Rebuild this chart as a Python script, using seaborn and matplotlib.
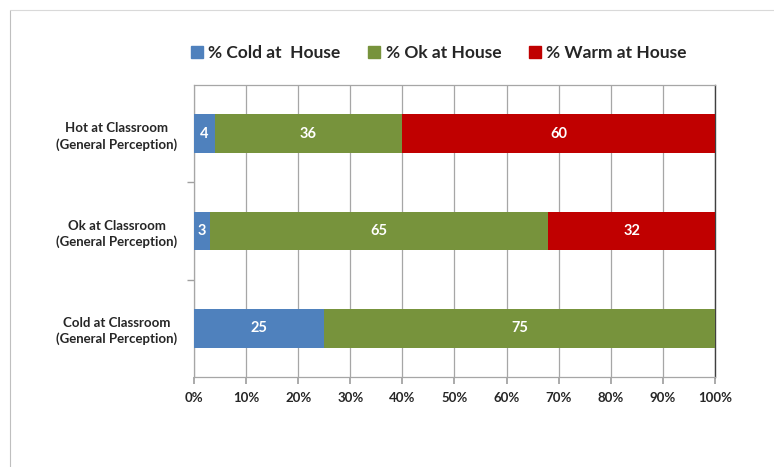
import matplotlib
matplotlib.use("Agg")
import matplotlib.pyplot as plt
import matplotlib.patches as mpatches
import numpy as np
import pandas as pd
import seaborn as sns

# data
categories = ["Hot at Classroom\n(General Perception)",
              "Ok at Classroom\n(General Perception)",
              "Cold at Classroom\n(General Perception)"]
cold_house = [4, 3, 25]
ok_house = [36, 65, 75]
warm_house = [60, 32, 0]
series_names = ["% Cold at  House", "% Ok at House", "% Warm at House"]
colors = ["#4F81BD", "#77933C", "#C00000"]

sns.set_theme(style="white")
plt.rcParams['font.family'] = ['Lato', 'DejaVu Sans']

df = pd.DataFrame({"cat": categories, "cold": cold_house,
                   "ok": ok_house, "warm": warm_house})
df["c1"] = df["cold"]
df["c2"] = df["cold"] + df["ok"]
df["c3"] = df["c2"] + df["warm"]

fig = plt.figure(figsize=(7.74, 4.67), dpi=100)
ax = fig.add_axes([0.2506, 0.1927, 0.673, 0.6253])

# stacked bars drawn as overlapping cumulative totals
for col, c in zip(["c3", "c2", "c1"], colors[::-1]):
    sns.barplot(data=df, x=col, y="cat", color=c, width=0.4,
                saturation=1, ax=ax, zorder=3, linewidth=0)

# value labels
for i, row in df.iterrows():
    starts = [0, row["c1"], row["c2"]]
    for s, v in zip(starts, [row["cold"], row["ok"], row["warm"]]):
        if v > 0:
            ax.text(s + v / 2, i, str(v), ha="center", va="center",
                    color="white", fontsize=10.5, fontweight="bold", zorder=4)

ax.set_xlim(0, 100)
ax.set_ylim(2.5, -0.5)
ax.set_xticks(np.arange(0, 101, 10))
ax.set_xticklabels([f"{t}%" for t in range(0, 101, 10)],
                   fontsize=9.5, fontweight="bold")
ax.set_yticks(range(3))
ax.set_yticklabels(categories, fontsize=9.5, fontweight="bold",
                   multialignment="center", linespacing=1.35)
ax.set_yticks([0.5, 1.5], minor=True)
ax.tick_params(axis="y", which="major", length=0, pad=12)
ax.tick_params(axis="y", which="minor", length=5, color="#A0A0A0",
               direction="out", left=True)
ax.tick_params(axis="x", length=5, color="#A0A0A0", direction="out",
               bottom=True, pad=6)
ax.set_xlabel("")
ax.set_ylabel("")
ax.xaxis.grid(True, color="#A6A6A6", linewidth=0.9, zorder=0)
ax.set_axisbelow(True)
for side in ["top", "left", "bottom"]:
    ax.spines[side].set_color("#A6A6A6")
    ax.spines[side].set_linewidth(0.9)
ax.spines["right"].set_color("#404040")
ax.spines["right"].set_linewidth(1.0)

# legend
handles = [mpatches.Patch(color=c, label=n) for c, n in zip(colors, series_names)]
fig.legend(handles=handles, loc="center", bbox_to_anchor=(0.567, 0.886),
           ncol=3, frameon=False,
           prop={"weight": "bold", "size": 12.5},
           handlelength=0.7, handleheight=0.7, handletextpad=0.3,
           columnspacing=1.6)

# outer frame lines
fig.add_artist(plt.Line2D([0.013, 0.013], [0.0, 0.978], color="#BFBFBF",
                          linewidth=0.8, transform=fig.transFigure))
fig.add_artist(plt.Line2D([0.013, 1.0], [0.978, 0.978], color="#D9D9D9",
                          linewidth=0.8, transform=fig.transFigure))

fig.savefig("out.png", dpi=100)
